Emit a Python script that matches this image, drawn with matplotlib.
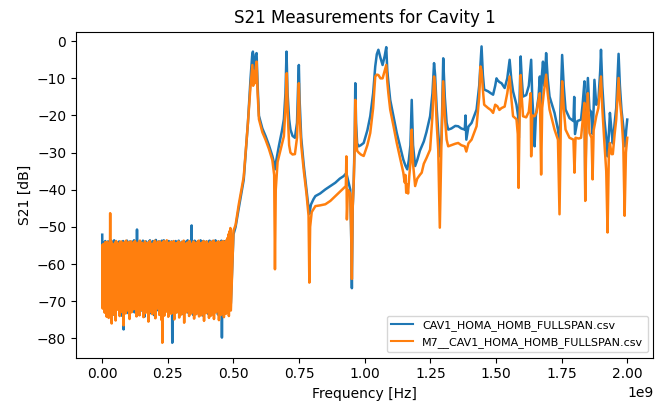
import numpy as np
import matplotlib
matplotlib.use("Agg")
import matplotlib.pyplot as plt

# Labels for the two sweeps
LABEL_A = "CAV1_HOMA_HOMB_FULLSPAN.csv"
LABEL_B = "M7__CAV1_HOMA_HOMB_FULLSPAN.csv"

# below ~0.49 GHz the trace is noise floor
NOISE_END_GHZ = 0.49

noise_a = [
    -52.1, -70.5, -54.2, -71.8, -55.0, -68.3, -53.8, -72.4, -56.1, -69.6,
    -54.5, -73.1, -53.9, -70.2, -55.6, -71.9, -54.1, -68.8, -53.7, -72.7,
    -56.3, -70.4, -54.8, -73.6, -53.6, -69.1, -55.2, -71.3, -54.0, -72.0,
    -54.4, -70.9, -55.8, -68.5, -53.9, -72.6, -54.6, -71.1, -55.3, -73.9,
    -54.2, -69.4, -53.8, -77.6, -56.0, -70.7, -54.4, -72.2, -55.1, -69.9,
    -53.7, -71.5, -54.9, -73.3, -55.5, -70.0, -53.9, -72.9, -54.3, -68.6,
    -55.7, -71.7, -54.0, -70.3, -53.6, -73.0, -55.4, -69.2, -54.7, -72.1,
    -50.7, -70.6, -55.0, -71.4, -54.1, -73.7, -53.8, -69.8, -55.9, -72.5,
    -54.5, -70.1, -53.7, -71.6, -55.2, -74.2, -54.3, -69.5, -53.9, -72.8,
    -54.8, -70.8, -55.6, -71.2, -54.0, -73.4, -53.6, -68.9, -55.3, -72.3,
    -54.6, -70.5, -53.8, -71.0, -55.1, -73.8, -54.2, -69.7, -53.5, -72.6,
    -55.8, -70.2, -54.4, -71.8, -53.9, -68.7, -55.0, -72.4, -54.1, -69.3,
    -53.7, -70.9, -54.9, -73.2, -53.6, -69.0, -55.4, -72.0, -54.5, -70.4,
    -55.2, -71.3, -54.0, -73.6, -53.8, -69.6, -55.7, -72.2, -54.3, -70.7,
    -53.9, -81.2, -54.7, -71.9, -55.5, -70.1, -54.2, -72.9, -53.8, -69.4,
    -55.3, -71.1, -54.6, -73.0, -53.7, -70.3, -55.0, -72.7, -54.4, -69.8,
    -54.0, -71.5, -55.6, -73.5, -54.1, -70.0, -53.9, -72.3, -55.2, -68.4,
    -54.8, -71.7, -53.6, -73.1, -55.4, -70.6, -54.3, -72.5, -53.8, -69.9,
    -49.6, -71.2, -55.1, -73.7, -54.5, -70.2, -53.7, -72.1, -55.8, -69.1,
    -54.2, -71.4, -53.9, -73.3, -55.0, -70.8, -54.6, -72.8, -53.6, -69.5,
    -55.5, -71.0, -54.0, -73.9, -53.8, -70.4, -55.3, -72.6, -54.7, -69.7,
    -53.9, -71.6, -55.2, -73.4, -54.1, -70.5, -53.7, -72.0, -55.6, -68.8,
    -54.4, -71.3, -53.8, -73.0, -55.0, -70.9, -54.2, -72.4, -53.6, -69.2,
    -55.7, -71.8, -54.5, -73.6, -53.9, -70.1, -55.1, -72.2, -54.3, -69.6,
    -53.7, -79.8, -54.8, -73.2, -55.4, -70.7, -54.0, -72.9, -53.8, -69.0,
    -54.6, -71.5, -53.6, -72.7, -53.0, -70.3, -52.2, -72.1, -51.2, -70.6,
]

noise_b = [
    -55.0, -72.0, -54.6, -70.3, -55.2, -73.1, -54.1, -69.5, -54.8, -74.2,
    -54.0, -71.2, -55.3, -74.5, -54.4, -70.0, -46.3, -72.8, -53.9, -76.0,
    -55.1, -69.3, -54.7, -73.6, -55.5, -71.0, -54.2, -75.2, -53.8, -70.4,
    -55.0, -72.3, -54.5, -69.8, -55.8, -74.0, -54.1, -71.5, -53.9, -72.9,
    -55.4, -70.2, -54.3, -76.5, -55.6, -71.8, -54.0, -73.3, -53.7, -69.9,
    -55.2, -72.5, -54.8, -70.7, -54.1, -74.8, -55.3, -71.4, -53.9, -73.0,
    -54.6, -70.1, -55.7, -72.2, -54.2, -69.6, -53.8, -71.9, -55.1, -74.1,
    -54.5, -72.7, -55.4, -70.5, -54.0, -73.8, -53.7, -71.1, -55.5, -72.4,
    -54.3, -69.7, -55.0, -74.3, -54.7, -71.6, -53.9, -73.2, -55.2, -70.0,
    -54.4, -72.1, -55.8, -75.5, -54.1, -71.3, -53.8, -72.9, -55.3, -70.6,
    -54.6, -73.5, -55.0, -69.4, -54.2, -72.6, -53.7, -74.6, -55.6, -71.0,
    -54.8, -72.0, -54.0, -70.3, -55.1, -73.7, -53.9, -71.7, -54.5, -75.0,
    -55.4, -81.2, -54.1, -72.3, -53.8, -73.9, -55.2, -71.2, -54.7, -72.8,
    -53.6, -70.9, -55.0, -74.2, -54.3, -72.5, -55.5, -71.0, -54.0, -73.4,
    -55.3, -70.8, -54.6, -72.7, -53.8, -74.9, -55.1, -71.5, -54.4, -73.1,
    -55.7, -70.4, -54.2, -72.9, -53.9, -74.4, -55.0, -71.9, -54.8, -73.6,
    -54.1, -70.2, -55.4, -72.1, -53.7, -75.8, -54.9, -71.3, -55.2, -73.0,
    -54.3, -70.7, -55.6, -72.6, -54.0, -74.0, -53.8, -71.8, -55.3, -73.3,
    -54.5, -70.5, -55.1, -72.4, -53.9, -74.7, -54.6, -71.1, -55.8, -73.5,
    -54.2, -70.9, -55.0, -72.0, -53.7, -74.1, -55.5, -71.6, -54.4, -73.8,
    -55.2, -70.3, -54.1, -72.8, -53.8, -75.3, -55.4, -71.4, -54.7, -73.2,
    -53.9, -70.6, -55.3, -72.2, -54.5, -74.5, -55.0, -71.7, -54.0, -73.9,
    -55.6, -70.1, -54.3, -72.5, -53.7, -74.8, -55.1, -71.2, -54.8, -73.0,
    -54.2, -70.8, -55.7, -72.3, -53.9, -75.1, -54.6, -71.5, -55.2, -73.7,
    -54.0, -70.4, -55.4, -72.7, -53.8, -74.3, -55.0, -71.0, -54.3, -73.4,
    -53.6, -70.7, -53.0, -72.1, -52.0, -74.0, -51.2, -71.4, -50.3, -72.5,
]

# resonance region, (GHz, dB)
res_f_a = [
    0.500, 0.508, 0.520, 0.539, 0.555, 0.565, 0.571, 0.574, 0.577, 0.580,
    0.582, 0.585, 0.588, 0.592, 0.597, 0.610, 0.622, 0.635, 0.648, 0.655,
    0.658, 0.662, 0.673, 0.685, 0.692, 0.698, 0.702, 0.706, 0.712, 0.717,
    0.725, 0.734, 0.742, 0.747, 0.749, 0.752, 0.758, 0.768, 0.778, 0.786,
    0.789, 0.795, 0.805, 0.812, 0.830, 0.850, 0.869, 0.888, 0.905, 0.920,
    0.930, 0.935, 0.939, 0.945, 0.949, 0.951, 0.954, 0.958, 0.962, 0.964,
    0.967, 0.971, 0.977, 0.985, 0.996, 1.010, 1.021, 1.032, 1.040, 1.046,
    1.052, 1.060, 1.068, 1.076, 1.082, 1.086, 1.090, 1.097, 1.110, 1.122,
    1.135, 1.147, 1.155, 1.162, 1.168, 1.174, 1.179, 1.184, 1.192, 1.200,
    1.210, 1.217, 1.225, 1.235, 1.249, 1.258, 1.264, 1.268, 1.274, 1.280,
    1.287, 1.293, 1.299, 1.305, 1.312, 1.318, 1.330, 1.345, 1.356, 1.368,
    1.381, 1.384, 1.387, 1.395, 1.407, 1.415, 1.426, 1.436, 1.442, 1.445,
    1.450, 1.455, 1.470, 1.480, 1.489, 1.497, 1.502, 1.505, 1.513, 1.521,
    1.533, 1.543, 1.552, 1.558, 1.565, 1.578, 1.584, 1.587, 1.590, 1.594,
    1.598, 1.603, 1.615, 1.625, 1.634, 1.638, 1.644, 1.647, 1.652, 1.662,
    1.667, 1.671, 1.675, 1.679, 1.684, 1.688, 1.691, 1.697, 1.704, 1.715,
    1.723, 1.736, 1.742, 1.747, 1.752, 1.758, 1.765, 1.780, 1.795, 1.798,
    1.801, 1.810, 1.824, 1.830, 1.837, 1.840, 1.845, 1.850, 1.856, 1.862,
    1.868, 1.872, 1.875, 1.882, 1.890, 1.897, 1.900, 1.905, 1.913, 1.920,
    1.925, 1.930, 1.934, 1.940, 1.945, 1.952, 1.958, 1.963, 1.967, 1.972,
    1.978, 1.985, 1.992, 1.996, 2.000,
]
res_db_a = [
    -52.0, -50.0, -45.0, -37.3, -22.0, -10.0, -4.0, -2.8, -8.0, -4.5,
    -6.0, -3.5, -3.2, -12.0, -20.1, -23.5, -25.5, -28.0, -30.9, -33.0,
    -34.5, -32.5, -28.2, -24.0, -21.0, -14.0, -2.8, -14.0, -21.0, -23.8,
    -25.5, -26.0, -22.0, -10.0, -6.4, -16.0, -26.0, -33.6, -40.0, -45.0,
    -46.5, -44.0, -42.5, -41.7, -41.0, -39.9, -39.0, -38.1, -37.0, -36.3,
    -35.5, -37.0, -38.1, -40.0, -55.0, -66.5, -45.0, -38.0, -25.0, -11.3,
    -22.0, -27.5, -28.3, -28.0, -27.4, -24.0, -20.2, -14.0, -6.8, -3.5,
    -2.3, -4.5, -6.4, -4.0, -1.6, -8.0, -11.0, -15.8, -20.5, -24.7,
    -28.5, -31.9, -33.5, -34.5, -32.0, -28.0, -15.8, -28.0, -33.6, -32.0,
    -29.5, -28.3, -27.0, -24.5, -20.2, -14.0, -5.9, -9.0, -18.0, -24.7,
    -31.0, -25.0, -4.6, -15.0, -22.0, -23.8, -23.5, -22.8, -22.9, -23.5,
    -23.8, -20.0, -26.5, -23.0, -22.0, -20.5, -18.4, -12.0, -5.0, -1.4,
    -9.0, -13.0, -13.5, -14.0, -14.4, -12.0, -10.0, -10.4, -11.0, -11.3,
    -12.6, -10.0, -5.0, -10.0, -13.5, -17.1, -20.0, -26.0, -15.0, -4.1,
    -10.0, -14.9, -14.5, -12.0, -5.0, -15.0, -22.0, -28.3, -20.0, -15.0,
    -9.5, -18.0, -9.0, -5.5, -12.0, -8.0, -3.2, -10.0, -14.9, -17.5,
    -19.3, -23.8, -27.4, -15.0, -3.7, -12.0, -18.4, -20.7, -21.5, -15.0,
    -25.0, -21.5, -21.1, -17.0, -10.8, -39.9, -18.0, -9.9, -18.4, -19.0,
    -25.0, -18.0, -10.4, -17.1, -16.0, -8.0, -2.3, -12.0, -21.1, -26.0,
    -31.0, -25.0, -19.3, -24.0, -27.5, -22.0, -18.0, -10.0, -3.4, -12.0,
    -18.5, -23.0, -28.3, -24.0, -21.1,
]

res_f_b = [
    0.500, 0.508, 0.520, 0.539, 0.555, 0.565, 0.572, 0.575, 0.578, 0.582,
    0.585, 0.588, 0.592, 0.597, 0.610, 0.622, 0.635, 0.648, 0.655, 0.658,
    0.661, 0.668, 0.680, 0.692, 0.698, 0.703, 0.707, 0.712, 0.717, 0.725,
    0.734, 0.742, 0.747, 0.749, 0.752, 0.758, 0.768, 0.778, 0.786, 0.789,
    0.792, 0.798, 0.812, 0.830, 0.850, 0.869, 0.888, 0.905, 0.920, 0.928,
    0.930, 0.932, 0.936, 0.945, 0.948, 0.951, 0.954, 0.958, 0.962, 0.964,
    0.967, 0.971, 0.977, 0.985, 0.996, 1.010, 1.021, 1.032, 1.040, 1.046,
    1.052, 1.060, 1.068, 1.076, 1.082, 1.086, 1.090, 1.097, 1.110, 1.122,
    1.135, 1.147, 1.152, 1.155, 1.158, 1.162, 1.165, 1.170, 1.175, 1.179,
    1.184, 1.192, 1.200, 1.210, 1.217, 1.225, 1.235, 1.249, 1.258, 1.264,
    1.268, 1.274, 1.280, 1.286, 1.292, 1.299, 1.305, 1.312, 1.318, 1.330,
    1.345, 1.356, 1.368, 1.381, 1.387, 1.395, 1.407, 1.415, 1.426, 1.436,
    1.441, 1.445, 1.450, 1.455, 1.470, 1.480, 1.489, 1.497, 1.505, 1.513,
    1.521, 1.533, 1.543, 1.552, 1.558, 1.565, 1.578, 1.583, 1.586, 1.590,
    1.594, 1.598, 1.603, 1.615, 1.625, 1.632, 1.634, 1.638, 1.647, 1.655,
    1.662, 1.667, 1.672, 1.676, 1.682, 1.691, 1.697, 1.704, 1.715, 1.723,
    1.736, 1.742, 1.747, 1.752, 1.758, 1.765, 1.780, 1.795, 1.799, 1.803,
    1.815, 1.824, 1.832, 1.837, 1.840, 1.845, 1.850, 1.856, 1.864, 1.868,
    1.872, 1.875, 1.882, 1.890, 1.897, 1.900, 1.905, 1.913, 1.920, 1.925,
    1.930, 1.934, 1.940, 1.945, 1.952, 1.958, 1.963, 1.967, 1.972, 1.978,
    1.985, 1.990, 1.995, 2.000,
]
res_db_b = [
    -51.0, -49.5, -44.0, -36.5, -22.0, -12.0, -6.4, -12.0, -8.0, -11.3,
    -7.0, -5.5, -14.0, -21.0, -24.5, -26.5, -29.0, -32.0, -36.0, -61.4,
    -40.0, -32.5, -29.0, -25.6, -18.0, -8.6, -20.0, -28.0, -30.0, -30.5,
    -30.4, -26.0, -15.0, -11.3, -20.0, -28.0, -35.0, -41.0, -47.0, -65.0,
    -50.0, -46.0, -44.4, -44.2, -43.9, -43.0, -41.7, -40.5, -39.5, -39.0,
    -31.0, -48.0, -40.0, -41.0, -50.0, -64.0, -45.0, -38.0, -28.0, -15.8,
    -25.0, -29.5, -30.0, -30.5, -30.9, -28.0, -24.7, -18.0, -9.5, -9.0,
    -9.1, -10.0, -10.0, -8.0, -6.4, -11.0, -14.0, -18.4, -23.0, -27.4,
    -31.5, -35.4, -38.0, -36.0, -40.8, -38.5, -41.0, -36.0, -32.0, -23.8,
    -33.0, -39.0, -37.0, -36.0, -35.4, -33.0, -31.5, -29.2, -20.0, -9.5,
    -12.0, -22.0, -29.2, -50.2, -28.0, -10.8, -20.0, -26.5, -28.3, -28.0,
    -27.6, -27.4, -28.0, -28.3, -29.7, -27.5, -26.5, -25.0, -22.9, -15.0,
    -6.8, -8.0, -13.0, -17.1, -18.0, -18.5, -19.3, -17.1, -17.5, -18.5,
    -18.0, -17.6, -14.0, -9.5, -15.0, -20.2, -21.0, -25.0, -39.5, -20.0,
    -9.1, -15.0, -20.2, -20.5, -19.0, -14.0, -31.0, -20.0, -20.2, -19.0,
    -15.8, -14.0, -35.9, -18.0, -14.0, -9.0, -14.0, -18.4, -21.5, -23.8,
    -26.5, -46.6, -22.0, -10.8, -18.0, -23.8, -26.0, -26.5, -35.4, -26.0,
    -26.2, -26.0, -20.0, -16.6, -43.0, -22.0, -14.0, -24.7, -26.0, -37.2,
    -24.0, -22.9, -20.2, -18.0, -12.0, -9.5, -18.0, -27.4, -35.0, -51.5,
    -30.0, -27.4, -30.4, -30.4, -25.0, -21.1, -15.0, -9.9, -16.0, -20.2,
    -28.0, -47.0, -30.0, -26.0,
]


def trace(noise, res_f, res_db):
    f = np.concatenate([np.linspace(0.0, NOISE_END_GHZ, len(noise)), res_f])
    return f * 1e9, np.concatenate([noise, res_db])


fa, sa = trace(noise_a, res_f_a, res_db_a)
fb, sb = trace(noise_b, res_f_b, res_db_b)

fig = plt.figure(figsize=(6.55, 4.05), dpi=100)
ax = fig.add_axes([0.116, 0.117, 0.8817, 0.805])
ax.plot(fa, sa, lw=1.8, label=LABEL_A)
ax.plot(fb, sb, lw=1.8, label=LABEL_B)
ax.set_title("S21 Measurements for Cavity 1")
ax.set_xlabel("Frequency [Hz]")
ax.set_ylabel("S21 [dB]")
leg = ax.legend(loc="lower right", fontsize=8)
for ln in leg.get_lines():
    ln.set_linewidth(1.5)

fig.savefig("out.png", dpi=100)
